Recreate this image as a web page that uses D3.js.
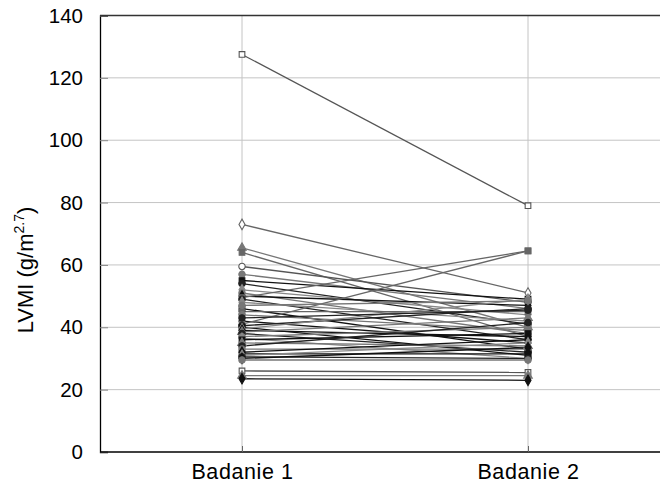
<!DOCTYPE html>
<html><head><meta charset="utf-8">
<script src="https://cdn.jsdelivr.net/npm/d3@7"></script>
<style>body{margin:0;background:#fff}svg{display:block}text{font-family:"Liberation Sans",Arial,sans-serif}</style>
</head><body><svg id="c" width="660" height="484"></svg>
<script>
const categories = ["Badanie 1", "Badanie 2"];
const badanie1 = [127.5,73,65.5,64,59.5,57,55,54,52,51,50,49.5,49,48,46,45,44,42,41,40.5,40,39.5,39,38.5,38,37,36.5,36,35,34,33,32,31.5,31,30.5,30,29.5,26,24.5,23.5,47,43];
const badanie2 = [79,51,40,37,48,46,49,41,44,38,47,64.5,36,42,33,45,39,35,64.5,46,31,49,37,43,32,40,30,38,34,41.5,33,36,31.5,35,30,33.5,29.5,25.5,24.5,23,48.5,45.5];
const yTicks = [0,20,40,60,80,100,120,140];

// marker style per subject (index into styles below)
const styleIdx = [0,1,2,3,4,5,6,8,9,5,7,3,8,9,6,3,5,7,3,8,6,9,7,2,8,5,9,6,2,8,5,7,6,9,8,7,5,0,2,7,5,8];
const styles = [
  {shape:d3.symbolSquare,   fill:"#fff", stroke:"#555"},
  {shape:d3.symbolDiamond,  fill:"#fff", stroke:"#666"},
  {shape:d3.symbolTriangle, fill:"#777", stroke:"#777"},
  {shape:d3.symbolSquare,   fill:"#666", stroke:"#666"},
  {shape:d3.symbolCircle,   fill:"#fff", stroke:"#555"},
  {shape:d3.symbolCircle,   fill:"#777", stroke:"#777"},
  {shape:d3.symbolSquare,   fill:"#111", stroke:"#111"},
  {shape:d3.symbolDiamond,  fill:"#111", stroke:"#111"},
  {shape:d3.symbolCircle,   fill:"#222", stroke:"#222"},
  {shape:d3.symbolDiamond,  fill:"#888", stroke:"#888"}
];

const svg = d3.select("#c");
const m = {l:100, r:660, t:15.5, b:452};
const x = d3.scalePoint().domain(categories).range([242, 528]);
const y = d3.scaleLinear().domain([0,140]).range([m.b, m.t]);
const FONT = '"Liberation Sans",Arial,sans-serif';

// gridlines
svg.append("g").selectAll("line").data(yTicks.filter(d=>d>0 && d<140)).join("line")
  .attr("x1", m.l).attr("x2", m.r).attr("y1", d=>y(d)).attr("y2", d=>y(d))
  .attr("stroke", "#c4c4c4").attr("stroke-width", 1);
svg.append("g").selectAll("line").data(categories).join("line")
  .attr("x1", d=>x(d)).attr("x2", d=>x(d)).attr("y1", m.t).attr("y2", m.b)
  .attr("stroke", "#c4c4c4").attr("stroke-width", 1);

// axes
const yAxis = d3.axisLeft(y).tickValues(yTicks).tickSize(-8).tickPadding(17).tickFormat(d3.format("d"));
const gy = svg.append("g").attr("transform", `translate(${m.l},0)`).call(yAxis);
gy.select(".domain").attr("stroke", "#000").attr("stroke-width", 1.3);
gy.selectAll(".tick line").attr("stroke", "#888");
gy.selectAll(".tick text").attr("font-size", 20.5).attr("fill", "#000").attr("font-family", FONT);

const xAxis = d3.axisBottom(x).tickSize(-6).tickPadding(0).tickSizeOuter(0);
const gx = svg.append("g").attr("transform", `translate(0,${m.b})`).call(xAxis);
gx.select(".domain").attr("d", `M${m.l},0H${m.r}`).attr("stroke", "#000").attr("stroke-width", 1.3);
gx.selectAll(".tick line").attr("stroke", "#666");
gx.selectAll(".tick text").attr("font-size", 21.5).attr("fill", "#000").attr("font-family", FONT)
  .attr("letter-spacing", 0.6).attr("dy", null).attr("y", 27);

// top border
svg.append("line").attr("x1", m.l).attr("x2", m.r).attr("y1", m.t).attr("y2", m.t)
  .attr("stroke", "#333").attr("stroke-width", 1.3);

// y title
const t = svg.append("text").attr("transform", "translate(33,270) rotate(-90)")
  .attr("text-anchor", "middle").attr("font-size", 22).attr("fill", "#000");
t.append("tspan").text("LVMI (g/m");
t.append("tspan").attr("font-size", 14).attr("dy", -9).text("2.7");
t.append("tspan").attr("dy", 9).text(")");

const sym = d3.symbol().size(32);
const data = badanie1.map((v,i)=>({i, a:v, b:badanie2[i], s:styles[styleIdx[i]]}));
const g = svg.append("g");
g.selectAll("line").data(data).join("line")
  .attr("x1", x(categories[0])).attr("y1", d=>y(d.a))
  .attr("x2", x(categories[1])).attr("y2", d=>y(d.b))
  .attr("stroke", d=>d.s.stroke).attr("stroke-width", 1.3);
data.forEach(d=>{
  [[categories[0], d.a],[categories[1], d.b]].forEach(([c,v])=>{
    g.append("path").attr("d", sym.type(d.s.shape)())
      .attr("transform", `translate(${x(c)},${y(v)})`)
      .attr("fill", d.s.fill).attr("stroke", d.s.stroke).attr("stroke-width", 1.1);
  });
});
</script></body></html>
